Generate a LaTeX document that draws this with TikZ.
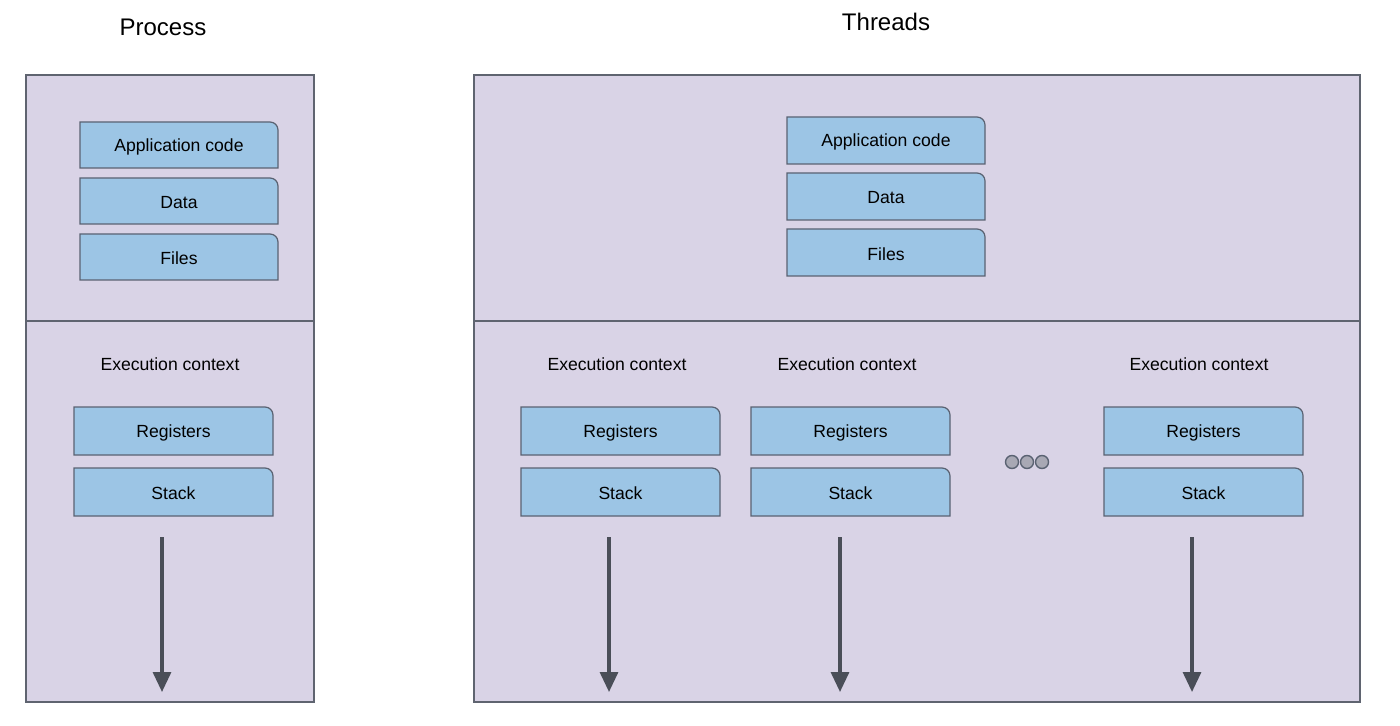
\documentclass[tikz,border=0pt]{standalone}
\usepackage{fontspec}
\setmainfont{Liberation Sans}
\usetikzlibrary{arrows.meta}
\definecolor{panelfill}{HTML}{D9D3E6}
\definecolor{panelline}{HTML}{5F6470}
\definecolor{boxfill}{HTML}{9CC5E5}
\definecolor{boxline}{HTML}{5A6272}
\definecolor{arrowcol}{HTML}{4A4E58}
\definecolor{dotfill}{HTML}{A8A8B4}
\newcommand{\membox}[6]{%
  \draw[memboxsty] (#1,#4) -- (#1,#2) -- (#3-8,#2) to[out=0,in=90] (#3,#2+8) -- (#3,#4) -- cycle;
  \node[lbl] (#5) at ({(#1+#3)/2},{(#2+#4)/2+1.5}) {#6};}
\begin{document}
\begin{tikzpicture}[x=0.5pt,y=-0.5pt,
  panel/.style={draw=panelline,fill=panelfill,line width=0.7pt},
  memboxsty/.style={draw=boxline,fill=boxfill,line width=0.6pt},
  lbl/.style={font=\fontsize{8.8}{10}\selectfont,inner sep=0pt},
  ttl/.style={font=\fontsize{12}{14}\selectfont,inner sep=0pt},
  flow/.style={draw=arrowcol,line width=1.6pt,-{Triangle[length=10pt,width=9pt]}},
  dot/.style={circle,draw=boxline,fill=dotfill,minimum size=6.5pt,inner sep=0pt,line width=0.7pt}]
\useasboundingbox (0,0) rectangle (1400,726);
% panels
\draw[panel] (26,75) rectangle (314,702);
\draw[panel] (26,321) -- (314,321);
\draw[panel] (474,75) rectangle (1360,702);
\draw[panel] (474,321) -- (1360,321);
% titles
\node[ttl] (tp) at (163,27) {Process};
\node[ttl] (tt) at (886,22) {Threads};
% process boxes
\membox{80}{122}{278}{168}{pa}{Application code}
\membox{80}{178}{278}{224}{pd}{Data}
\membox{80}{234}{278}{280}{pf}{Files}
\node[lbl] (pe) at (170,364) {Execution context};
\membox{74}{407}{273}{455}{pr}{Registers}
\membox{74}{468}{273}{516}{ps}{Stack}
\coordinate (p1) at (162,537);
\coordinate (p2) at (162,692);
\draw[flow] (p1) -- (p2);
% threads shared
\membox{787}{117}{985}{164}{ta}{Application code}
\membox{787}{173}{985}{220}{td}{Data}
\membox{787}{229}{985}{276}{tf}{Files}
% thread 1
\node[lbl] (e1) at (617,364) {Execution context};
\membox{521}{407}{720}{455}{r1}{Registers}
\membox{521}{468}{720}{516}{s1}{Stack}
\coordinate (a1) at (609,537);
\coordinate (b1) at (609,692);
\draw[flow] (a1) -- (b1);
% thread 2
\node[lbl] (e2) at (847,364) {Execution context};
\membox{751}{407}{950}{455}{r2}{Registers}
\membox{751}{468}{950}{516}{s2}{Stack}
\coordinate (a2) at (840,537);
\coordinate (b2) at (840,692);
\draw[flow] (a2) -- (b2);
% thread 3
\node[lbl] (e3) at (1199,364) {Execution context};
\membox{1104}{407}{1303}{455}{r3}{Registers}
\membox{1104}{468}{1303}{516}{s3}{Stack}
\coordinate (a3) at (1192,537);
\coordinate (b3) at (1192,692);
\draw[flow] (a3) -- (b3);
% dots
\node[dot] (d1) at (1012,462) {};
\node[dot] (d2) at (1027,462) {};
\node[dot] (d3) at (1042,462) {};
\end{tikzpicture}
\end{document}
